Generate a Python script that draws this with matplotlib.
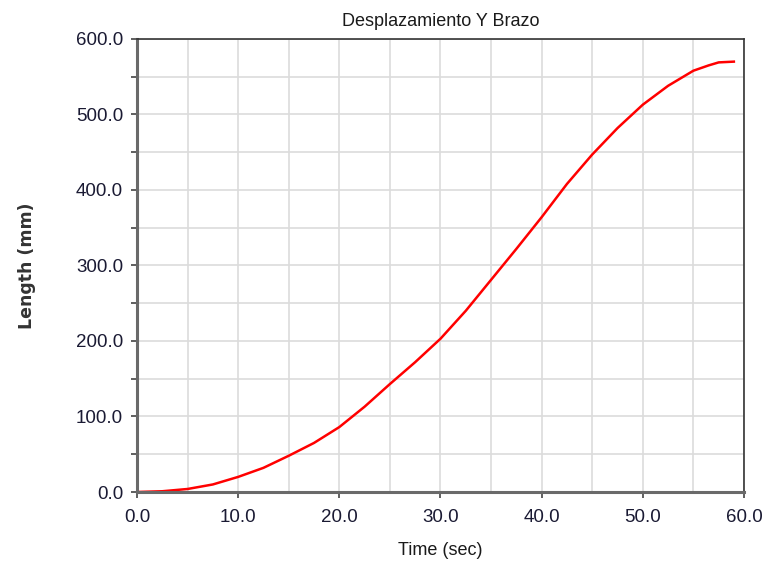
import matplotlib
matplotlib.use('Agg')
import matplotlib.pyplot as plt
from matplotlib.ticker import MultipleLocator, FormatStrFormatter

# time (sec) and arm displacement (mm)
time_s = [0, 2.5, 5, 7.5, 10, 12.5, 15, 17.5, 20, 22.5, 25, 27.5, 30,
          32.5, 35, 37.5, 40, 42.5, 45, 47.5, 50, 52.5, 55, 56.5, 57.5, 59]
length_mm = [0, 1, 4, 10, 20, 32, 48, 65, 86, 113, 143, 172, 203,
             240, 281, 322, 364, 408, 447, 482, 513, 538, 558, 565, 569, 570]

plt.rcParams['font.family'] = ['Liberation Sans', 'DejaVu Sans']

fig = plt.figure(figsize=(7.64, 5.65), dpi=100)
ax = fig.add_axes([0.1793, 0.1292, 0.7945, 0.8018])

ax.plot(time_s, length_mm, color='#ff0000', lw=1.8)

ax.set_xlim(0, 60)
ax.set_ylim(0, 600)
ax.xaxis.set_major_locator(MultipleLocator(10))
ax.xaxis.set_minor_locator(MultipleLocator(5))
ax.yaxis.set_major_locator(MultipleLocator(100))
ax.yaxis.set_minor_locator(MultipleLocator(50))
ax.xaxis.set_major_formatter(FormatStrFormatter('%.1f'))
ax.yaxis.set_major_formatter(FormatStrFormatter('%.1f'))

ax.grid(True, which='both', color='#dcdcdc', lw=1.2)
ax.set_axisbelow(True)

for s in ['left', 'bottom']:
    ax.spines[s].set_color('#6a6a6a')
    ax.spines[s].set_linewidth(2.2)
for s in ['top', 'right']:
    ax.spines[s].set_color('#333333')
    ax.spines[s].set_linewidth(1.2)

ax.tick_params(axis='both', which='major', labelsize=13.5, colors='#444444',
               labelcolor='#1a1a33', length=4, width=1.2)
ax.tick_params(axis='x', which='major', pad=8)
ax.tick_params(axis='y', which='major', pad=6)
ax.tick_params(axis='y', which='minor', length=4, width=1.2, colors='#444444')
ax.tick_params(axis='x', which='minor', length=0)

ax.set_title('Desplazamiento Y Brazo', fontsize=13, color='#1a1a1a', pad=9)
ax.set_xlabel('Time (sec)', fontsize=13, color='#1a1a1a', labelpad=12)
ax.set_ylabel('Length (mm)', fontsize=12.5, fontweight='bold', color='#333333',
              family=['DejaVu Sans'], labelpad=29)

fig.savefig('out.png', dpi=100)
